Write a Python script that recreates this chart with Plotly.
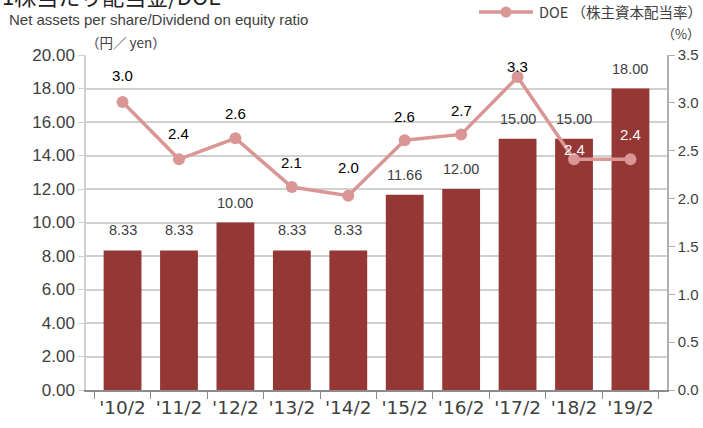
import plotly.graph_objects as go

categories = ["'10/2", "'11/2", "'12/2", "'13/2", "'14/2", "'15/2", "'16/2", "'17/2", "'18/2", "'19/2"]
dividend = [8.33, 8.33, 10.00, 8.33, 8.33, 11.66, 12.00, 15.00, 15.00, 18.00]
doe = [3.01, 2.41, 2.63, 2.12, 2.03, 2.61, 2.67, 3.27, 2.41, 2.41]
left_ticks = [0, 2, 4, 6, 8, 10, 12, 14, 16, 18, 20]
right_ticks = [0, 0.5, 1.0, 1.5, 2.0, 2.5, 3.0, 3.5]

W, H = 703, 428
L, R, T, B = 86, 36, 55, 38
PW, PH = W - L - R, H - T - B

def px(x):
    return (x - L) / PW

def py(y):
    return (H - B - y) / PH

BAR = "#953735"
LINE = "#D99694"
TXT = "#404040"
FONT = "Liberation Sans, Arial, sans-serif"
JFONT = "Noto Sans CJK JP, sans-serif"

fig = go.Figure()
fig.add_trace(go.Bar(x=categories, y=dividend, marker_color=BAR, marker_line_width=0,
                     yaxis="y", hoverinfo="skip"))
fig.add_trace(go.Scatter(x=categories, y=doe, mode="lines+markers", yaxis="y2",
                         line=dict(color=LINE, width=3.5),
                         marker=dict(color=LINE, size=12), hoverinfo="skip"))

ann = []
for c, v in zip(categories, dividend):
    ann.append(dict(x=c, y=v, xref="x", yref="y", text=f"{v:.2f}", showarrow=False,
                    yanchor="middle", yshift=20, font=dict(size=14.5, color=TXT, family=FONT)))
doe_shift = [26, 26, 25, 25, 28, 24, 24, 11, 10, 25]
doe_color = ["#000000"] * 8 + ["#FFFFFF", "#FFFFFF"]
for c, v, s, col in zip(categories, doe, doe_shift, doe_color):
    ann.append(dict(x=c, y=v, xref="x", yref="y2", text=f"{v:.1f}", showarrow=False,
                    yanchor="middle", yshift=s, font=dict(size=15, color=col, family=FONT)))

# header texts
ann.append(dict(x=px(0), y=py(-5), xref="paper", yref="paper", xanchor="left", yanchor="middle",
                text="1株当たり配当金/DOE", showarrow=False,
                font=dict(size=22, color="#222222", family=JFONT)))
ann.append(dict(x=px(7), y=py(19), xref="paper", yref="paper", xanchor="left", yanchor="middle",
                text="Net assets per share/Dividend on equity ratio", showarrow=False,
                font=dict(size=15, color=TXT, family=FONT)))
ann.append(dict(x=px(84), y=py(42), xref="paper", yref="paper", xanchor="left", yanchor="middle",
                text="（円／ yen）", showarrow=False,
                font=dict(size=13.5, color=TXT, family=JFONT)))
ann.append(dict(x=px(702), y=py(33), xref="paper", yref="paper", xanchor="right", yanchor="middle",
                text="（%）", showarrow=False,
                font=dict(size=13, color=TXT, family=JFONT)))
ann.append(dict(x=px(537), y=py(12), xref="paper", yref="paper", xanchor="left", yanchor="middle",
                text="DOE （株主資本配当率）", showarrow=False,
                font=dict(size=14.5, color=TXT, family=JFONT)))
ann.append(dict(x=px(550), y=py(-9), xref="paper", yref="paper", xanchor="left", yanchor="middle",
                text="1株当たり配当金", showarrow=False,
                font=dict(size=14, color=TXT, family=JFONT)))

shapes = [
    dict(type="line", xref="paper", yref="paper", x0=px(479), x1=px(533), y0=py(12), y1=py(12),
         line=dict(color=LINE, width=3.5)),
    dict(type="circle", xref="paper", yref="paper", x0=px(500.5), x1=px(511.5), y0=py(17.5), y1=py(6.5),
         fillcolor=LINE, line=dict(color=LINE, width=0)),
]

fig.update_layout(
    width=W, height=H, margin=dict(l=L, r=R, t=T, b=B, autoexpand=False),
    paper_bgcolor="white", plot_bgcolor="white", showlegend=False, bargap=0.33,
    annotations=ann, shapes=shapes,
    xaxis=dict(type="category", showline=True, linecolor="#8c8c8c", linewidth=1.5,
               ticks="outside", ticklen=7, tickcolor="#8c8c8c", tickson="boundaries",
               tickfont=dict(size=18.5, color=TXT, family="DejaVu Sans, sans-serif"), showgrid=False),
    yaxis=dict(range=[0, 20], tickvals=left_ticks, ticktext=[f"{t:.2f}" for t in left_ticks],
               showgrid=True, gridcolor="#d0d0d0", gridwidth=1.5, showline=True,
               linecolor="#d0d0d0", linewidth=1.5, ticks="outside", ticklen=6, tickcolor="#d0d0d0",
               tickfont=dict(size=17, color=TXT, family=FONT), zeroline=False),
    yaxis2=dict(range=[0, 3.5], overlaying="y", side="right", tickvals=right_ticks,
                ticktext=[f"{t:.1f}" for t in right_ticks], showgrid=False, showline=True,
                linecolor="#b0b0b0", linewidth=1.5, ticks="outside", ticklen=6, tickcolor="#b0b0b0",
                tickfont=dict(size=15, color=TXT, family=FONT), zeroline=False),
)

fig.write_html("out.html", config={"displayModeBar": False},
               post_script="document.body.style.margin='0';document.body.style.overflow='hidden';")
